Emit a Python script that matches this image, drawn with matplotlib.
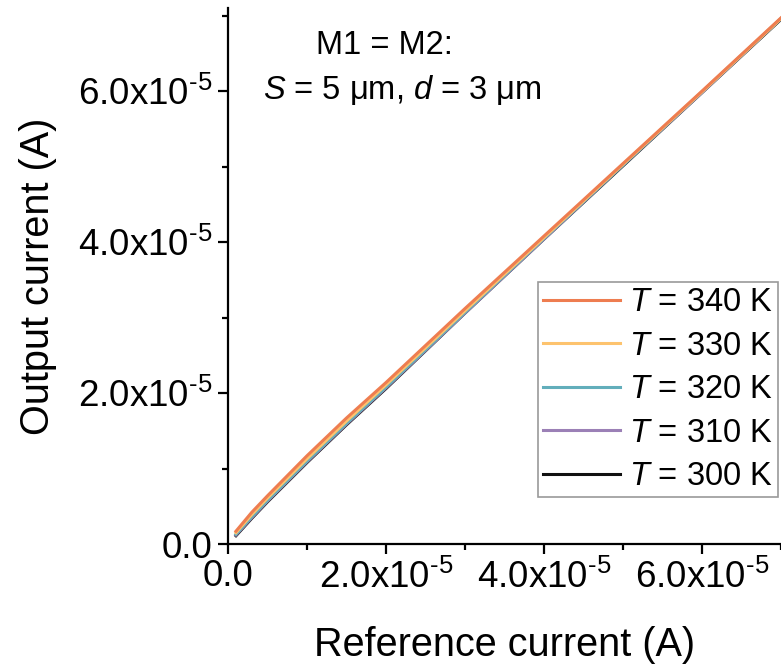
import numpy as np
import matplotlib
matplotlib.use('Agg')
import matplotlib.pyplot as plt
from matplotlib.ticker import FuncFormatter, MultipleLocator

plt.rcParams['font.family'] = ['Liberation Sans', 'DejaVu Sans']
plt.rcParams['mathtext.fontset'] = 'custom'
plt.rcParams['mathtext.rm'] = 'Liberation Sans'
plt.rcParams['mathtext.it'] = 'Liberation Sans:italic'

# reference current (A)
i_ref = np.array([0.1, 0.3, 0.5, 1.0, 1.5, 2.0, 3.0, 4.0, 5.0, 6.0, 7.0]) * 1e-5

# output current (A) for each temperature
temps = [340, 330, 320, 310, 300]
i_out = {
    340: [0.17, 0.42, 0.64, 1.17, 1.67, 2.14, 3.12, 4.08, 5.04, 6.00, 6.97],
    330: [0.15, 0.39, 0.61, 1.13, 1.63, 2.11, 3.09, 4.06, 5.03, 5.99, 6.96],
    320: [0.13, 0.36, 0.58, 1.10, 1.60, 2.08, 3.07, 4.05, 5.02, 5.99, 6.96],
    310: [0.12, 0.35, 0.57, 1.09, 1.59, 2.07, 3.06, 4.04, 5.02, 5.98, 6.96],
    300: [0.11, 0.34, 0.56, 1.08, 1.58, 2.06, 3.06, 4.04, 5.01, 5.98, 6.95],
}
colors = {340: '#EE7D50', 330: '#FDC36E', 320: '#62AEBB', 310: '#9B80B6', 300: '#111111'}

fig = plt.figure(figsize=(7.81, 6.70), dpi=100)
ax = fig.add_axes([0.292, 0.188, 0.708, 0.800])

handles = {}
for t in reversed(temps):
    h, = ax.plot(i_ref, np.array(i_out[t]) * 1e-5, color=colors[t], lw=2.2)
    handles[t] = h

ax.set_xlim(0, 7.0e-5)
ax.set_ylim(0, 7.1e-5)

def fmt(v, pos):
    if abs(v) < 1e-12:
        return '0.0'
    return '%.1fx10$^{\u20105}$' % (v * 1e5)

ax.xaxis.set_major_locator(MultipleLocator(2e-5))
ax.xaxis.set_minor_locator(MultipleLocator(1e-5))
ax.yaxis.set_major_locator(MultipleLocator(2e-5))
ax.yaxis.set_minor_locator(MultipleLocator(1e-5))
ax.xaxis.set_major_formatter(FuncFormatter(fmt))
ax.yaxis.set_major_formatter(FuncFormatter(fmt))

for s in ['top', 'right']:
    ax.spines[s].set_visible(False)
for s in ['left', 'bottom']:
    ax.spines[s].set_linewidth(1.6)

ax.tick_params(which='major', direction='out', length=7, width=1.6, labelsize=26.5, pad=4)
ax.tick_params(which='minor', direction='out', length=4, width=1.6)

ax.set_xlabel('Reference current (A)', fontsize=28.5, labelpad=22)
ax.set_ylabel('Output current (A)', fontsize=28.5, labelpad=15)

ax.text(0.282, 0.93, 'M1 = M2:', transform=ax.transAxes, ha='center', va='center', fontsize=23.5)
ax.text(0.315, 0.848, r'$S$ = 5 μm, $d$ = 3 μm', transform=ax.transAxes,
        ha='center', va='center', fontsize=23.5)

leg = ax.legend([handles[t] for t in temps], ['$T$ = %d K' % t for t in temps],
                loc='lower right', bbox_to_anchor=(0.995, 0.088), fontsize=23.5,
                frameon=True, fancybox=False, edgecolor='#808080',
                handlelength=2.36, handletextpad=0.3, labelspacing=0.38,
                borderpad=0.15, borderaxespad=0)
leg.get_frame().set_linewidth(1.2)

fig.savefig('out.png', dpi=100)
